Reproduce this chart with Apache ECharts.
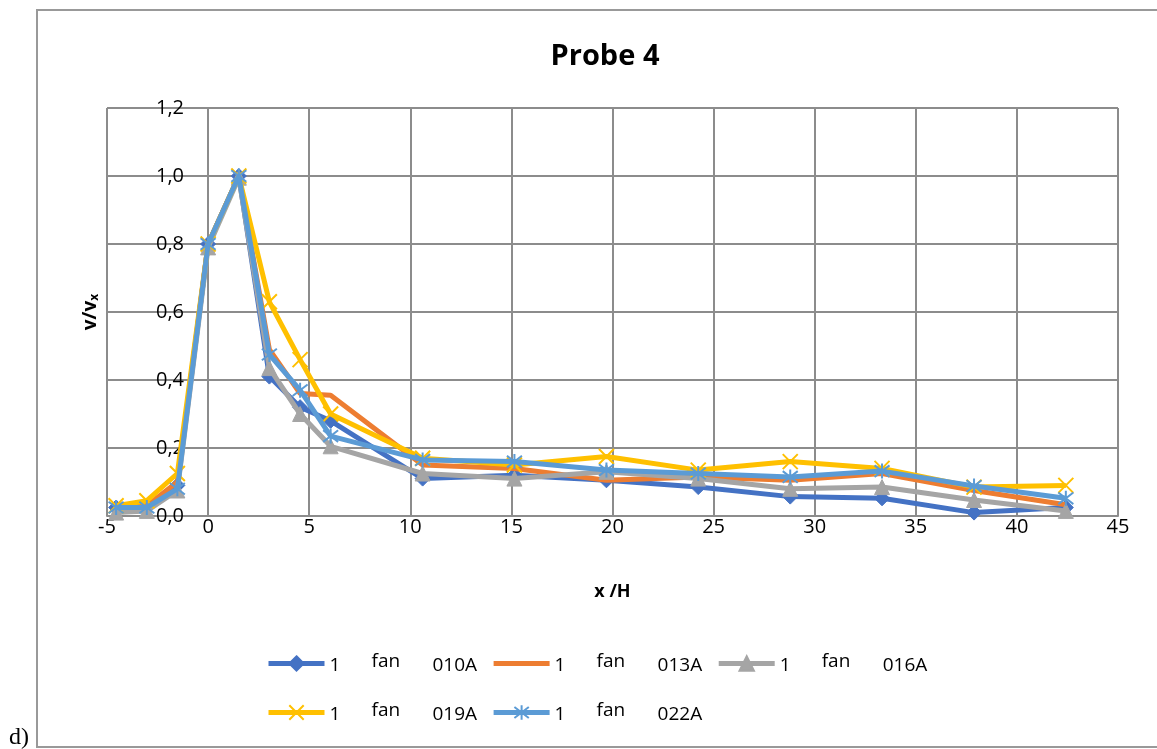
<!DOCTYPE html>
<html>
<head>
<meta charset="utf-8">
<script src="https://cdn.jsdelivr.net/npm/echarts@6/dist/echarts.min.js"></script>
<style>
html,body{margin:0;padding:0;background:#fff;}
#chart{width:1157px;height:749px;}
</style>
</head>
<body>
<div id="chart"></div>
<script>
const xValues = [-4.55, -3.03, -1.52, 0, 1.52, 3.03, 4.55, 6.06, 10.61, 15.15, 19.70, 24.24, 28.79, 33.33, 37.88, 42.42];
const fan010A = [0.025, 0.025, 0.09, 0.80, 1.00, 0.41, 0.32, 0.28, 0.11, 0.12, 0.105, 0.085, 0.057, 0.052, 0.01, 0.025];
const fan013A = [0.025, 0.03, 0.10, 0.80, 1.00, 0.49, 0.36, 0.355, 0.15, 0.14, 0.105, 0.115, 0.105, 0.125, 0.075, 0.033];
const fan016A = [0.01, 0.015, 0.075, 0.79, 0.995, 0.435, 0.30, 0.205, 0.125, 0.11, 0.13, 0.11, 0.08, 0.085, 0.047, 0.015];
const fan019A = [0.03, 0.045, 0.125, 0.80, 1.00, 0.63, 0.46, 0.30, 0.17, 0.15, 0.175, 0.135, 0.16, 0.14, 0.085, 0.09];
const fan022A = [0.025, 0.025, 0.08, 0.80, 1.00, 0.475, 0.37, 0.235, 0.165, 0.16, 0.135, 0.125, 0.115, 0.132, 0.088, 0.052];
const seriesNames = ['1 fan 010A', '1 fan 013A', '1 fan 016A', '1 fan 019A', '1 fan 022A'];
const titleText = 'Probe 4';
const xAxisTitle = 'x /H';

const FONT = 'Open Sans';
const colors = ['#4472C4', '#ED7D31', '#A5A5A5', '#FFC000', '#5B9BD5'];
const symbols = [
  'diamond',
  'path://M0,0 M10,10 M0,5 L10,5',
  'triangle',
  'path://M0,0 L10,10 M10,0 L0,10',
  'path://M0,0 L10,10 M10,0 L0,10 M5,-1.5 L5,11.5'
];
const symbolSizes = [15, 4, 15, 15, 15];
const dataSets = [fan010A, fan013A, fan016A, fan019A, fan022A];

function pairs(ys) { return xValues.map((x, i) => [x, ys[i]]); }

const series = dataSets.map((ys, k) => ({
  name: seriesNames[k],
  type: 'line',
  data: pairs(ys),
  symbol: symbols[k],
  symbolSize: symbolSizes[k],
  showSymbol: k !== 1,
  lineStyle: { color: colors[k], width: 5 },
  itemStyle: k >= 3
    ? { color: colors[k], borderColor: colors[k], borderWidth: 2 }
    : { color: colors[k], borderColor: colors[k], borderWidth: 1 },
  z: 2 + k
}));

function legendFmt(name) {
  const p = name.split(' ');
  return '{a|' + p[0] + '}{b|' + p[1] + '}{c|' + p[2] + '}';
}
const legendRich = {
  a: { fontFamily: FONT, fontSize: 19, color: '#000', width: 42, padding: [4, 0, 0, 0] },
  b: { fontFamily: FONT, fontSize: 19, color: '#000', width: 61, padding: [0, 0, 4, 0] },
  c: { fontFamily: FONT, fontSize: 19, color: '#000', width: 61, padding: [4, 0, 0, 0] }
};
function makeLegend(id, names, top) {
  return {
    id: id,
    data: names,
    left: 266,
    top: top,
    orient: 'horizontal',
    itemWidth: 56,
    itemHeight: 18,
    itemGap: 14,
    padding: 0,
    formatter: legendFmt,
    lineStyle: { width: 5 },
    textStyle: { rich: legendRich }
  };
}

const chart = echarts.init(document.getElementById('chart'), null, { renderer: 'canvas' });
chart.setOption({
  animation: false,
  backgroundColor: '#fff',
  title: {
    text: titleText,
    left: 600,
    top: 37,
    textAlign: 'center',
    textStyle: { fontFamily: FONT, fontWeight: 'bold', fontSize: 29, color: '#000' }
  },
  grid: { left: 107, right: 39, top: 108, bottom: 233, containLabel: false, outerBoundsMode: 'none' },
  xAxis: {
    type: 'value',
    min: -5, max: 45, interval: 5,
    name: xAxisTitle,
    nameLocation: 'middle',
    nameGap: 67,
    nameTextStyle: { fontFamily: FONT, fontWeight: 'bold', fontSize: 18, color: '#000' },
    axisLine: { show: true, onZero: false, lineStyle: { color: '#8c8c8c', width: 2 } },
    axisTick: { show: false },
    axisLabel: { fontFamily: FONT, fontSize: 20, color: '#000', margin: 1 },
    splitLine: { show: true, lineStyle: { color: '#8c8c8c', width: 2 } }
  },
  yAxis: {
    type: 'value',
    min: 0, max: 1.2, interval: 0.2,
    offset: -101,
    name: '{a|v/v}{b|x}',
    nameLocation: 'middle',
    nameGap: 107,
    nameTextStyle: {
      rich: {
        a: { fontFamily: FONT, fontWeight: 'bold', fontSize: 19, color: '#000' },
        b: { fontFamily: FONT, fontWeight: 'bold', fontSize: 12, color: '#000', padding: [8, 0, 0, 0] }
      }
    },
    axisLine: { show: true, onZero: false, lineStyle: { color: '#8c8c8c', width: 2 } },
    axisTick: { show: false },
    axisLabel: {
      fontFamily: FONT, fontSize: 20, color: '#000', margin: 24,
      formatter: v => v.toFixed(1).replace('.', ',')
    },
    splitLine: { show: true, lineStyle: { color: '#8c8c8c', width: 2 } }
  },
  legend: [
    makeLegend('row1', seriesNames.slice(0, 3), 652),
    makeLegend('row2', seriesNames.slice(3), 701)
  ],
  graphic: [
    {
      type: 'rect',
      shape: { x: 37, y: 10, width: 1200, height: 737 },
      style: { fill: 'none', stroke: '#999', lineWidth: 2 },
      silent: true, z: -1
    },
    {
      type: 'text',
      left: 9,
      top: 726,
      style: { text: 'd)', font: '24px "Liberation Serif"', fill: '#000' }
    }
  ],
  series: series
});
</script>
</body>
</html>
